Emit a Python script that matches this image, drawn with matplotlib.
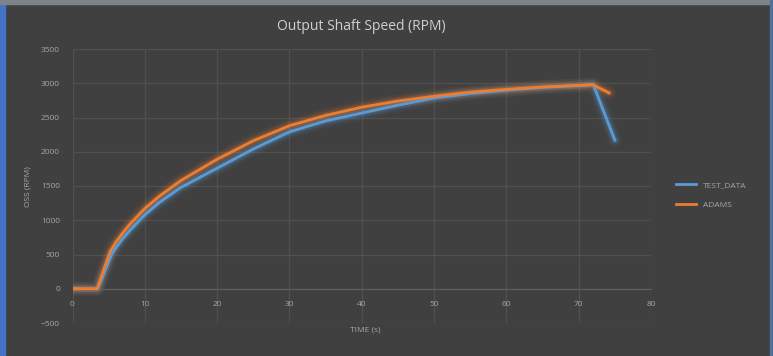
import matplotlib
matplotlib.use("Agg")
import matplotlib.pyplot as plt
from matplotlib.patches import Rectangle

# data
test_t = [0, 3.5, 5.4, 6, 7, 8, 10, 12, 15, 20, 25, 30, 35, 40, 45, 50, 55, 60, 65, 70, 72, 75]
test_v = [0, 0, 500, 600, 740, 860, 1080, 1260, 1480, 1760, 2040, 2290, 2450, 2565, 2680,
          2785, 2850, 2900, 2940, 2965, 2985, 2170]

adams_t = [0, 3.4, 5.2, 6, 7, 8, 10, 12, 15, 20, 25, 30, 35, 40, 45, 50, 55, 60, 65, 70, 72, 74.2]
adams_v = [0, 0, 540, 680, 820, 950, 1170, 1350, 1580, 1890, 2160, 2380, 2530, 2650, 2740,
           2810, 2870, 2910, 2945, 2970, 2975, 2860]

x_ticks = list(range(0, 81, 10))
y_ticks = list(range(-500, 3501, 500))

BG = "#404040"
GRID = "#505050"
TXT = "#a6a6a6"
BLUE = "#5b9bd5"
ORANGE = "#ed7d31"

plt.rcParams["font.family"] = ["Open Sans", "DejaVu Sans"]

W, H = 773, 356
fig = plt.figure(figsize=(W / 100, H / 100), dpi=100, facecolor=BG)
ax = fig.add_axes([72.5 / W, 33 / H, (651 - 72.5) / W, (323 - 49) / H])
ax.set_facecolor(BG)

# frame strips as in the screenshot
fig.patches.append(Rectangle((0, 0), 5 / W, 1, transform=fig.transFigure,
                             color="#4472c4", zorder=5))
fig.patches.append(Rectangle((0, 1 - 4 / H), 1, 4 / H, transform=fig.transFigure,
                             color="#7d838a", zorder=5))
fig.patches.append(Rectangle((1 - 3 / W, 0), 3 / W, 1, transform=fig.transFigure,
                             color="#4f6f9e", zorder=5))


def glow_line(x, y, color, label):
    # soft glow like the Excel effect
    for lw, a in [(10, 0.06), (7, 0.10), (4.5, 0.20)]:
        ax.plot(x, y, color=color, lw=lw, alpha=a, solid_capstyle="round", zorder=2)
    ax.plot(x, y, color=color, lw=2, label=label, zorder=3)


glow_line(test_t, test_v, BLUE, "TEST_DATA")
glow_line(adams_t, adams_v, ORANGE, "ADAMS")

ax.set_xlim(0, 80)
ax.set_ylim(-500, 3500)
ax.set_xticks(x_ticks)
ax.set_yticks(y_ticks)
ax.grid(True, color=GRID, lw=0.9)
ax.set_axisbelow(True)
for s in ["top", "right", "left"]:
    ax.spines[s].set_visible(False)
ax.spines["bottom"].set_position(("data", 0))
ax.spines["bottom"].set_color("#606060")
ax.tick_params(length=0, labelsize=6, colors=TXT)
ax.tick_params(axis="x", pad=9)
ax.tick_params(axis="y", pad=9)

ax.set_title("Output Shaft Speed (RPM)", color="#d0d0d0", fontsize=10, pad=14)
fig.text(28 / W, 1 - 187 / H, "OSS (RPM)", rotation=90, color=TXT, fontsize=6,
         ha="center", va="center")
fig.text(365 / W, 1 - 330 / H, "TIME (s)", color=TXT, fontsize=6, ha="center", va="center")

handles, labels = ax.get_legend_handles_labels()
leg = fig.legend(handles, labels, loc="center left",
                 bbox_to_anchor=(668 / W, 1 - 195 / H), frameon=False,
                 fontsize=6, labelcolor=TXT, handlelength=2.5, labelspacing=1.4)

fig.savefig("out.png", dpi=100, facecolor=BG)
